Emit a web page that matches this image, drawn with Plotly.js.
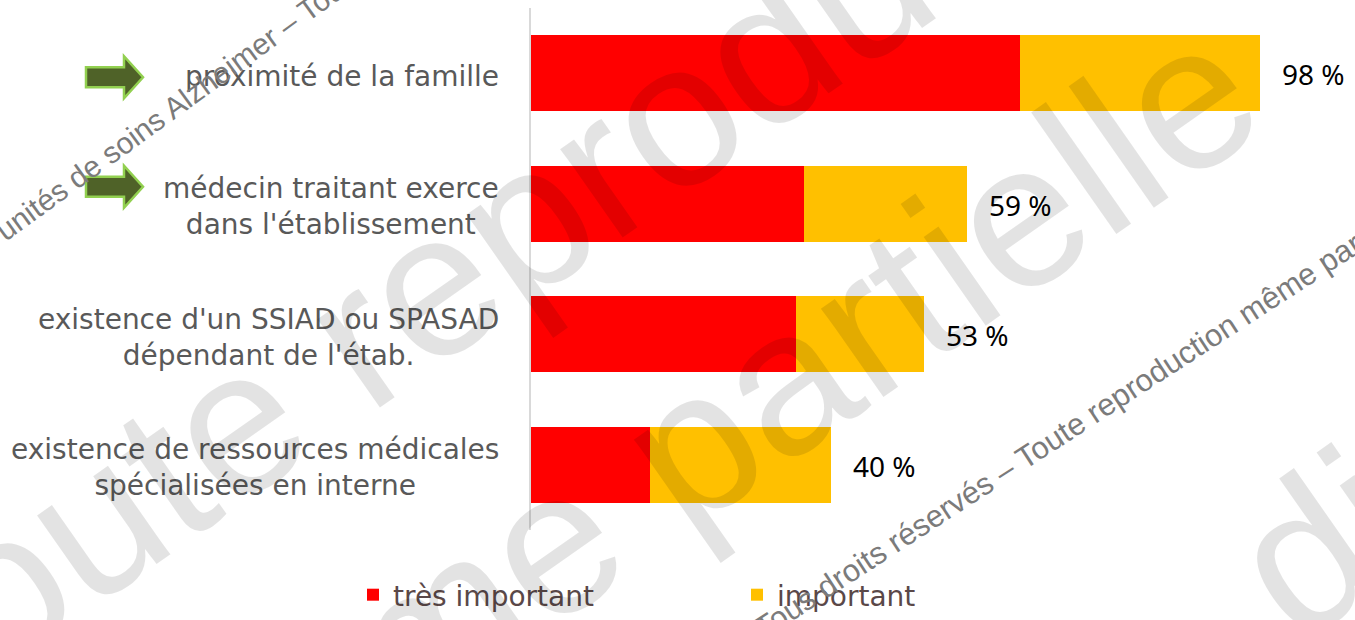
<!DOCTYPE html>
<html>
<head>
<meta charset="utf-8">
<script src="https://cdn.plot.ly/plotly-3.0.1.min.js"></script>
<style>html,body{margin:0;padding:0;background:#fff;}#chart{width:1355px;height:620px;}</style>
</head>
<body>
<div id="chart"></div>
<script>
// ---- data ----
const categories = [
  "proximité de la famille",
  "médecin traitant exerce<br>dans l'établissement",
  "existence d'un SSIAD ou SPASAD<br>dépendant de l'étab.",
  "existence de ressources médicales<br>spécialisées en interne"
];
const tresImportant = [65.8, 36.7, 35.7, 16.0];
const important = [32.3, 22.0, 17.2, 24.4];
const totalLabels = ["98 %", "59 %", "53 %", "40 %"];
const seriesNames = ["très important", "important"];
const arrowedCategories = [0, 1];
const watermarkBig = ["Toute reproduction", "même partielle", "diffusion interdite"];
const watermarkSmall = [
  "Tous droits réservés – Toute reproduction même partielle interdite",
  "unités de soins Alzheimer – Tous droits réservés"
];

// ---- layout helpers ----
const W = 1355, H = 620;
const M = {l: 531, r: 81, t: 8, b: 90, autoexpand: false};
const pw = W - M.l - M.r, ph = H - M.t - M.b;
const px2x = px => (px - M.l) / pw;
const py2y = py => (H - M.b - py) / ph;
const catCenterPx = i => M.t + (i + 0.5) * ph / categories.length;

const labelFont = {family: "DejaVu Sans, Verdana, sans-serif", size: 28, color: "#595959"};

const annotations = [];
// category labels (centered multi-line, right edge ~30px from axis)
categories.forEach((c, i) => {
  annotations.push({
    xref: "paper", yref: "y", x: 0, y: c, xanchor: "right", yanchor: "middle",
    xshift: -30, yshift: -3, text: c, showarrow: false, align: "center", font: labelFont
  });
});
// total labels
categories.forEach((c, i) => {
  annotations.push({
    xref: "x", yref: "y", x: tresImportant[i] + important[i], y: c,
    xanchor: "left", yanchor: "middle", xshift: 20, yshift: -1,
    text: totalLabels[i], showarrow: false,
    font: {family: "Noto Sans, sans-serif", size: 28, color: "#000000"}
  });
});
// watermarks (decorative overlay)
const bigPos = [[565, 190], [681, 451], [1889, 145]];
watermarkBig.forEach((t, i) => {
  annotations.push({
    xref: "paper", yref: "paper", x: px2x(bigPos[i][0]), y: py2y(bigPos[i][1]),
    xanchor: "center", yanchor: "middle",
    text: t, showarrow: false, textangle: -35,
    font: {family: "Liberation Sans, Arial, sans-serif", size: 205, color: "rgba(0,0,0,0.11)"}
  });
});
const smallPos = [[1134, 386, -33, 31], [258, 45, -36, 30]];
watermarkSmall.forEach((t, i) => {
  annotations.push({
    xref: "paper", yref: "paper", x: px2x(smallPos[i][0]), y: py2y(smallPos[i][1]),
    xanchor: "center", yanchor: "middle", text: t, showarrow: false, textangle: smallPos[i][2],
    font: {family: "Liberation Sans, Arial, sans-serif", size: smallPos[i][3], color: "#7b7b7b"}
  });
});

// green block arrows next to highlighted categories
const shapes = arrowedCategories.map(i => {
  const twoLines = categories[i].indexOf("<br>") >= 0;
  const cy = catCenterPx(i) + (twoLines ? -17 : 4);
  const x0 = 86;
  const pts = [[x0, cy - 10], [x0 + 38, cy - 10], [x0 + 38, cy - 21], [x0 + 57, cy],
               [x0 + 38, cy + 21], [x0 + 38, cy + 10], [x0, cy + 10]];
  const path = "M" + pts.map(p => px2x(p[0]).toFixed(5) + "," + py2y(p[1]).toFixed(5)).join("L") + "Z";
  return {type: "path", xref: "paper", yref: "paper", path: path,
          fillcolor: "#4F6228", line: {color: "#92D050", width: 2.5}, layer: "above"};
});

const data = [
  {type: "bar", orientation: "h", y: categories, x: tresImportant, name: seriesNames[0],
   marker: {color: "#FF0000"}, hoverinfo: "skip"},
  {type: "bar", orientation: "h", y: categories, x: important, name: seriesNames[1],
   marker: {color: "#FFC000"}, hoverinfo: "skip"}
];

const layout = {
  width: W, height: H,
  margin: M,
  barmode: "stack", bargap: 0.42,
  paper_bgcolor: "#ffffff", plot_bgcolor: "#ffffff",
  xaxis: {range: [0, 100], visible: false, fixedrange: true},
  yaxis: {type: "category", autorange: "reversed", showticklabels: false, ticks: "",
          showline: true, linecolor: "#d9d9d9", linewidth: 2, showgrid: false, zeroline: false, fixedrange: true},
  showlegend: true,
  legend: {orientation: "h", x: px2x(353), xanchor: "left", y: py2y(595), yanchor: "middle",
           font: {family: "DejaVu Sans, Verdana, sans-serif", size: 28, color: "#5a4848"},
           entrywidth: 339, entrywidthmode: "pixels", traceorder: "normal", bgcolor: "rgba(0,0,0,0)"},
  annotations: annotations,
  shapes: shapes
};

Plotly.newPlot("chart", data, layout, {displayModeBar: false, staticPlot: true});
</script>
</body>
</html>
